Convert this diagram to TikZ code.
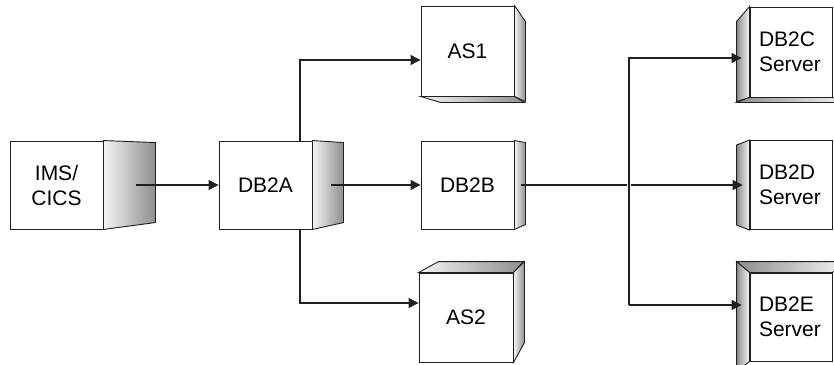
\documentclass[tikz,border=0pt]{standalone}
\usepackage{fontspec}
\setmainfont{Liberation Sans}
\usepackage{xcolor}
\usepackage{tikz}
\usetikzlibrary{arrows.meta,calc}
\definecolor{ink}{HTML}{231F20}
\definecolor{shadelo}{HTML}{F4F4F4}
\definecolor{shadehi}{HTML}{8E8E8E}

\begin{document}
\begin{tikzpicture}[x=1pt,y=-1pt,
  face/.style={draw=ink,fill=white,line width=0.9pt,inner sep=0pt,
               minimum width=93pt,minimum height=88pt,align=center,
               font=\fontsize{21}{25}\selectfont},
  srv/.style={face,minimum width=82pt,minimum height=90pt,text width=64pt,align=left},
  rside/.style={draw=ink,line width=0.9pt,left color=shadelo,right color=shadehi},
  lside/.style={draw=ink,line width=0.9pt,left color=shadehi,right color=shadelo},
  ar/.style={-{Triangle[length=10pt,width=10pt]},line width=1.2pt,draw=ink},
  cut/.style={draw=white,line width=3.5pt}]
\useasboundingbox (0,0) rectangle (834,364);
\clip (0,0) rectangle (834,364);
% front faces
\node[face] (ims) at (56.5,185) {IMS/\\CICS};
\node[face] (db2a) at (265.5,185) {DB2A};
\node[face,minimum height=90pt] (as1) at (467.5,51) {AS1};
\node[face] (db2b) at (467.5,185) {DB2B};
\node[face,minimum width=94pt,minimum height=89pt] (as2) at (466,317.5) {AS2};
\node[srv] (db2c) at (791,52) {DB2C\\Server};
\node[srv,minimum height=89pt] (db2d) at (791,185) {DB2D\\Server};
\node[srv,minimum height=88pt] (db2e) at (791,317) {DB2E\\Server};
% shaded sides
\path[rside] (ims.north east) -- ++(52,2) -- ++(0,80) -- (ims.south east) -- cycle;
\path[rside] (db2a.north east) -- ++(31,2) -- ++(0,80) -- (db2a.south east) -- cycle;
\path[rside] (db2b.north east) -- ++(11,2) -- ++(0,82) -- (db2b.south east) -- cycle;
\path[rside] (as1.north east) -- ++(11,16) -- ++(0,80) -- (as1.south east) -- cycle;
\path[rside] (as1.south west) -- ++(20,6) -- ++(84,0) -- (as1.south east) -- cycle;
\path[rside] (as2.north west) -- ++(20,-11) -- ++(85,0) -- (as2.north east) -- cycle;
\path[rside] (as2.north east) -- ++(11,-11) -- ++(0,81) -- (as2.south east) -- cycle;
\path[lside] (db2c.north west) -- ++(-13,15) -- ++(0,80) -- (db2c.south west) -- cycle;
\path[lside] (db2c.south west) -- ++(-13,5) -- ++(110,0) -- (db2c.south east) -- cycle;
\path[lside] (db2d.north west) -- ++(-13,5) -- ++(0,80) -- (db2d.south west) -- cycle;
\path[lside] (db2e.north west) -- ++(-13,-11) -- ++(110,0) -- (db2e.north east) -- cycle;
\path[lside] (db2e.north west) -- ++(-13,-11) -- ++(0,110) -- (db2e.south west) -- cycle;
% connectors
\draw[ar] ([xshift=33pt]ims.east) -- (db2a.west);
\draw[ar] ([xshift=19pt]db2a.east) -- (db2b.west);
\draw[ar] ([xshift=34.5pt]db2a.north) |- ([yshift=-9pt]as1.west);
\draw[ar] ([xshift=34.5pt]db2a.south) |- ([yshift=14.5pt]as2.west);
\draw[ar] ([xshift=7pt]db2b.east) -- ($(db2d.west)+(-7,0)$);
\coordinate (jt) at (629,58);
\coordinate (jb) at (629,305);
\draw[cut] (jt) -- (jb);
\draw[ar] (jb) -- (jt) -- ($(jt -| db2c.west)+(-8,0)$);
\draw[ar] (jb) -- ($(jb -| db2e.west)+(-8,0)$);
\end{tikzpicture}
\end{document}
